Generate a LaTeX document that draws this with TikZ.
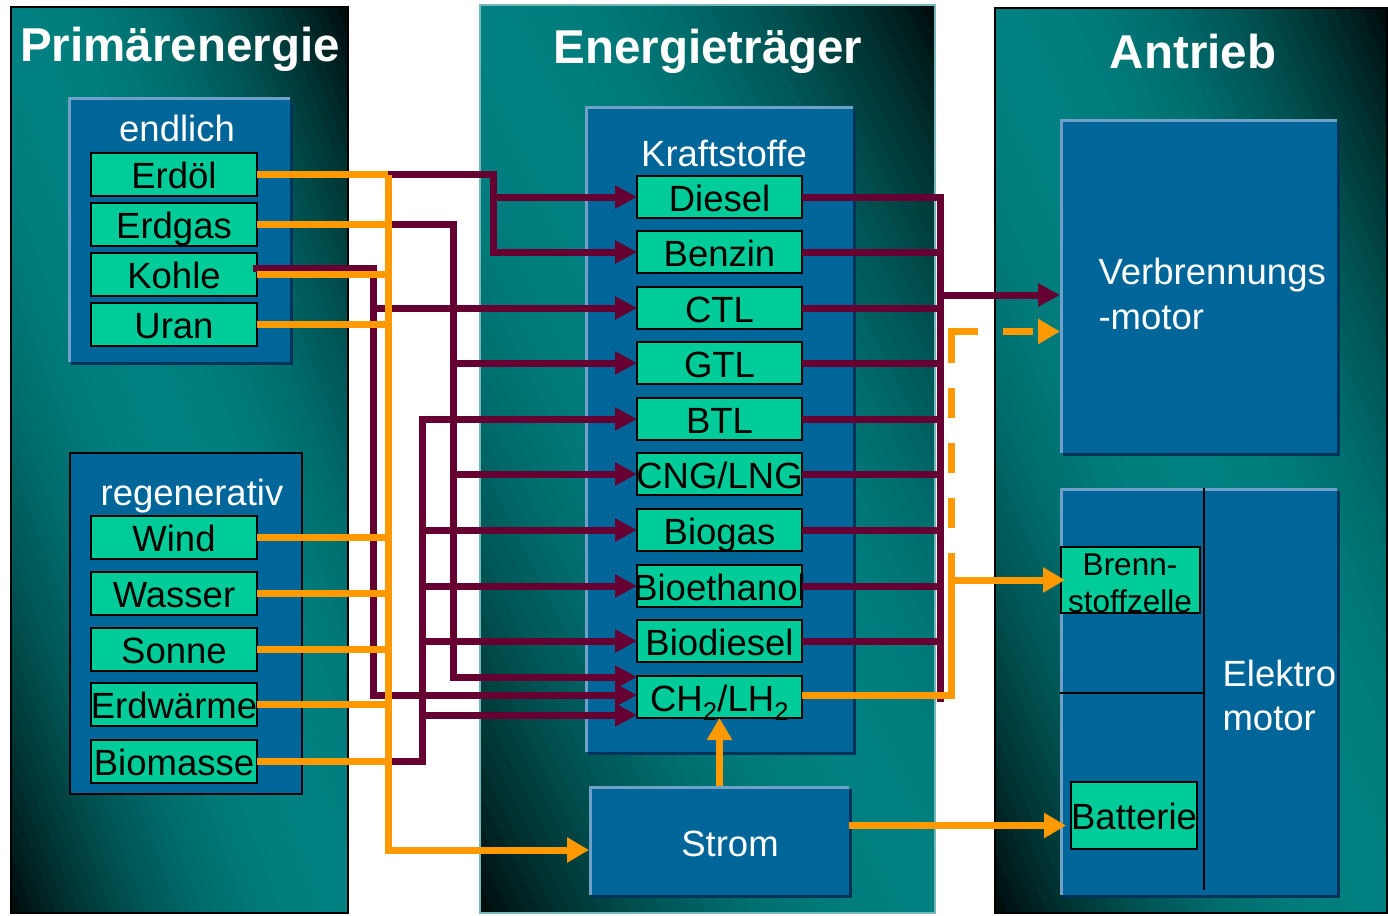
\documentclass[tikz,border=0pt]{standalone}
\usepackage{fontspec}
\setmainfont{Liberation Sans}
\usetikzlibrary{arrows.meta,shadows}
\definecolor{pteal}{RGB}{0,128,128}
\definecolor{pdark}{RGB}{0,10,10}
\definecolor{boxblue}{RGB}{0,102,153}
\definecolor{boxlight}{RGB}{110,160,200}
\definecolor{boxshadow}{RGB}{0,51,90}
\definecolor{fuelgreen}{RGB}{0,204,153}
\definecolor{mymaroon}{RGB}{102,0,51}
\definecolor{myorange}{RGB}{255,153,0}
% diagonal gradient panel: teal along the top-left/bottom-right diagonal, dark in the other two corners
\newcommand\gradpanel[4]{%
  \begin{scope}
    \clip (#1,#2) rectangle (#3,#4);
    \begin{scope}[shift={(#1,#4)}, xscale=#3-#1, yscale=#2-#4]
      \foreach \gi in {0,...,59}{%
        \pgfmathsetmacro\ga{\gi/30}%
        \pgfmathsetmacro\gb{(\gi+1.4)/30}%
        \pgfmathsetmacro\gd{(\gi+0.5)/30-1}%
        \pgfmathsetmacro\gg{100*(1-\gd*\gd)}%
        \fill[pteal!\gg!pdark] (\ga+0.1,-0.1) -- (\ga-1.1,1.1) -- (\gb-1.1,1.1) -- (\gb+0.1,-0.1) -- cycle;
      }
    \end{scope}
  \end{scope}}
\begin{document}
\begin{tikzpicture}[x=1pt,y=-1pt,
  mline/.style={draw=mymaroon, line width=7pt},
  marr/.style={mline, -{Triangle[length=22pt,width=22pt]}},
  oline/.style={draw=myorange, line width=7pt},
  oarr/.style={oline, -{Triangle[length=22pt,width=24pt]}},
  odash/.style={dash pattern=on 30pt off 25pt},
  bluebox/.style={anchor=north west, inner sep=0pt, outer sep=0pt, fill=boxblue,
    drop shadow={shadow xshift=3pt, shadow yshift=-3pt, fill=boxshadow, opacity=1},
    path picture={\draw[boxlight,line width=5pt] (path picture bounding box.south west) -- (path picture bounding box.north west) -- (path picture bounding box.north east);}},
  greenbox/.style={anchor=north west, inner sep=0pt, outer sep=0pt, fill=fuelgreen, draw=black, line width=2pt,
    font=\fontsize{36.5}{40}\selectfont, text height=28pt, text depth=0pt, text=black},
  fuelbox/.style={greenbox, minimum width=165pt, minimum height=42pt},
  srcbox/.style={greenbox, minimum width=166pt, minimum height=43pt},
  titletext/.style={anchor=base, text=white, font=\fontsize{47.5}{50}\selectfont\bfseries},
  wlabel/.style={anchor=base, text=white, font=\fontsize{36.5}{40}\selectfont},
  blabel/.style={anchor=base, text=black, font=\fontsize{31.5}{34}\selectfont},
]
\useasboundingbox (0,0) rectangle (1388,915);
\fill[white] (0,0) rectangle (1388,915);

% panels
\gradpanel{11}{7}{348}{913}
\gradpanel{480}{5}{935}{913}
\gradpanel{995}{8}{1387}{913}
\draw[black, line width=1.5pt] (11,7) rectangle (348,913);
\draw[pteal!55!white, line width=1.5pt] (480,5) rectangle (935,913);
\draw[black, line width=1.5pt] (995,8) rectangle (1387,913);

% titles
\node[titletext] (tPrim) at (180,62) {Primärenergie};
\node[titletext] (tEnerg) at (708,64) {Energieträger};
\node[titletext] (tAntr) at (1193,69) {Antrieb};

% blue group boxes
\node[bluebox, minimum width=222pt, minimum height=264pt] (endl) at (68,98) {};
\node[anchor=north west, inner sep=0pt, fill=boxblue, draw=black, line width=2pt, minimum width=232pt, minimum height=341pt] (regen) at (69,452) {};
\node[bluebox, minimum width=268pt, minimum height=645pt] (kraft) at (585,107) {};
\node[bluebox, minimum width=260pt, minimum height=109pt] (strom) at (589,786) {};
\node[bluebox, minimum width=277pt, minimum height=333pt] (verb) at (1060,120) {};
\node[bluebox, minimum width=277pt, minimum height=407pt] (elek) at (1060,488) {};

% group labels
\node[wlabel] (lEndl) at (177,141) {endlich};
\node[wlabel] (lRegen) at (192,505) {regenerativ};
\node[wlabel] (lKraft) at (724,166) {Kraftstoffe};
\node[wlabel] (lStrom) at (730,856) {Strom};
\node[wlabel, anchor=base west] (lVerb1) at (1095,284) {Verbrennungs};
\node[wlabel, anchor=base west] (lVerb2) at (1095,329) {-motor};
\node[wlabel, anchor=base west] (lElek1) at (1219,686) {Elektro};
\node[wlabel, anchor=base west] (lElek2) at (1219,730) {motor};

% Elektro box dividers
\draw[black, line width=2pt] (1204,488) -- (1204,890);
\draw[black, line width=2pt] (1060,693) -- (1204,693);

% source boxes
\node[srcbox] (erdoel) at (91,153) {\makebox[0pt]{Erdöl}};
\node[srcbox] (erdgas) at (91,203) {\makebox[0pt]{Erdgas}};
\node[srcbox] (kohle) at (91,253) {\makebox[0pt]{Kohle}};
\node[srcbox] (uran) at (91,303) {\makebox[0pt]{Uran}};
\node[srcbox] (wind) at (91,516) {\makebox[0pt]{Wind}};
\node[srcbox] (wasser) at (91,572) {\makebox[0pt]{Wasser}};
\node[srcbox] (sonne) at (91,628) {\makebox[0pt]{Sonne}};
\node[srcbox] (erdw) at (91,683) {\makebox[0pt]{Erdwärme}};
\node[srcbox] (biom) at (91,740) {\makebox[0pt]{Biomasse}};

% fuel boxes
\node[fuelbox] (diesel) at (637,176) {\makebox[0pt]{Diesel}};
\node[fuelbox] (benzin) at (637,231) {\makebox[0pt]{Benzin}};
\node[fuelbox] (ctl) at (637,287) {\makebox[0pt]{CTL}};
\node[fuelbox] (gtl) at (637,342) {\makebox[0pt]{GTL}};
\node[fuelbox] (btl) at (637,398) {\makebox[0pt]{BTL}};
\node[fuelbox] (cng) at (637,453) {\makebox[0pt]{CNG/LNG}};
\node[fuelbox] (biogas) at (637,509) {\makebox[0pt]{Biogas}};
\node[fuelbox] (bioeth) at (637,565) {\makebox[0pt]{Bioethanol}};
\node[fuelbox] (biodie) at (637,620) {\makebox[0pt]{Biodiesel}};
\node[fuelbox] (ch2) at (637,676) {\makebox[0pt]{CH\textsubscript{2}/LH\textsubscript{2}}};

% drive boxes
\node[greenbox, minimum width=139pt, minimum height=66pt] (bsz) at (1061,547) {};
\node[blabel] (lBsz1) at (1130,575) {Brenn-};
\node[blabel] (lBsz2) at (1130,612) {stoffzelle};
\node[greenbox, minimum width=126pt, minimum height=67pt] (batt) at (1071,782) {\makebox[0pt]{Batterie}};

% helper coordinates
\coordinate (bus) at (388,850);
\coordinate (vA) at (493,0);
\coordinate (vB) at (453,0);
\coordinate (vC) at (373,0);
\coordinate (vD) at (422,0);
\coordinate (vR) at (940,0);
\coordinate (vRbot) at (940,702);
\coordinate (oTurn) at (951,553);
\coordinate (ch2a) at ([yshift=20pt]ch2.west);
\coordinate (ch2b) at ([yshift=2pt]ch2.west);
\coordinate (ch2c) at ([yshift=-18pt]ch2.west);
\coordinate (kohM) at ([xshift=-4pt,yshift=6pt]kohle.east);
\coordinate (verbM) at ([yshift=-8.5pt]verb.west);
\coordinate (verbO) at ([yshift=-45pt]verb.west);
\coordinate (oCorner) at (oTurn |- verbO);
\coordinate (oCornerL) at ([xshift=-3.5pt]oCorner);
\coordinate (sb) at ([yshift=15pt]strom.east);

% maroon connectors (left)
\draw[marr] (bus |- erdoel.east) -| (vA |- benzin.west) -- (benzin.west);
\draw[marr] (vA |- diesel.west) -- (diesel.west);
\draw[marr] (bus |- erdgas.east) -| (vB |- ch2a) -- (ch2a);
\draw[marr] (vB |- gtl.west) -- (gtl.west);
\draw[marr] (vB |- cng.west) -- (cng.west);
\draw[marr] (kohM) -| (vC |- ch2b) -- (ch2b);
\draw[marr] (vC |- ctl.west) -- (ctl.west);
\draw[marr] (bus |- biom.east) -| (vD |- btl.west) -- (btl.west);
\draw[marr] (vD |- biogas.west) -- (biogas.west);
\draw[marr] (vD |- bioeth.west) -- (bioeth.west);
\draw[marr] (vD |- biodie.west) -- (biodie.west);
\draw[marr] (vD |- ch2c) -- (ch2c);

% maroon connectors (right)
\draw[mline] (diesel.east) -| (vRbot);
\foreach \n in {benzin,ctl,gtl,btl,cng,biogas,bioeth,biodie}
  \draw[mline] (\n.east) -- (vR |- \n.east);
\draw[marr] (vR |- verbM) -- (verbM);

% orange connectors
\foreach \n in {erdoel,erdgas,kohle,uran,wind,wasser,sonne,erdw,biom}
  \draw[oline] (\n.east) -- (bus |- \n.east);
\draw[oarr] (bus |- erdoel.east) -- (bus) -- (strom.west |- bus);
\draw[oline] ([yshift=2pt]ch2.east) -| (oTurn);
\draw[oarr] (oTurn |- bsz.west) -- ([xshift=4pt]bsz.west);
\draw[oline, odash, dash phase=30pt] (oTurn) -- (oCorner);
\draw[oarr, odash] (oCornerL) -- (verbO);
\draw[oarr] (strom.north -| ch2.south) -- (ch2.south);
\draw[oarr, shorten >=5pt] (sb) -- (batt.west |- sb);
\end{tikzpicture}
\end{document}
